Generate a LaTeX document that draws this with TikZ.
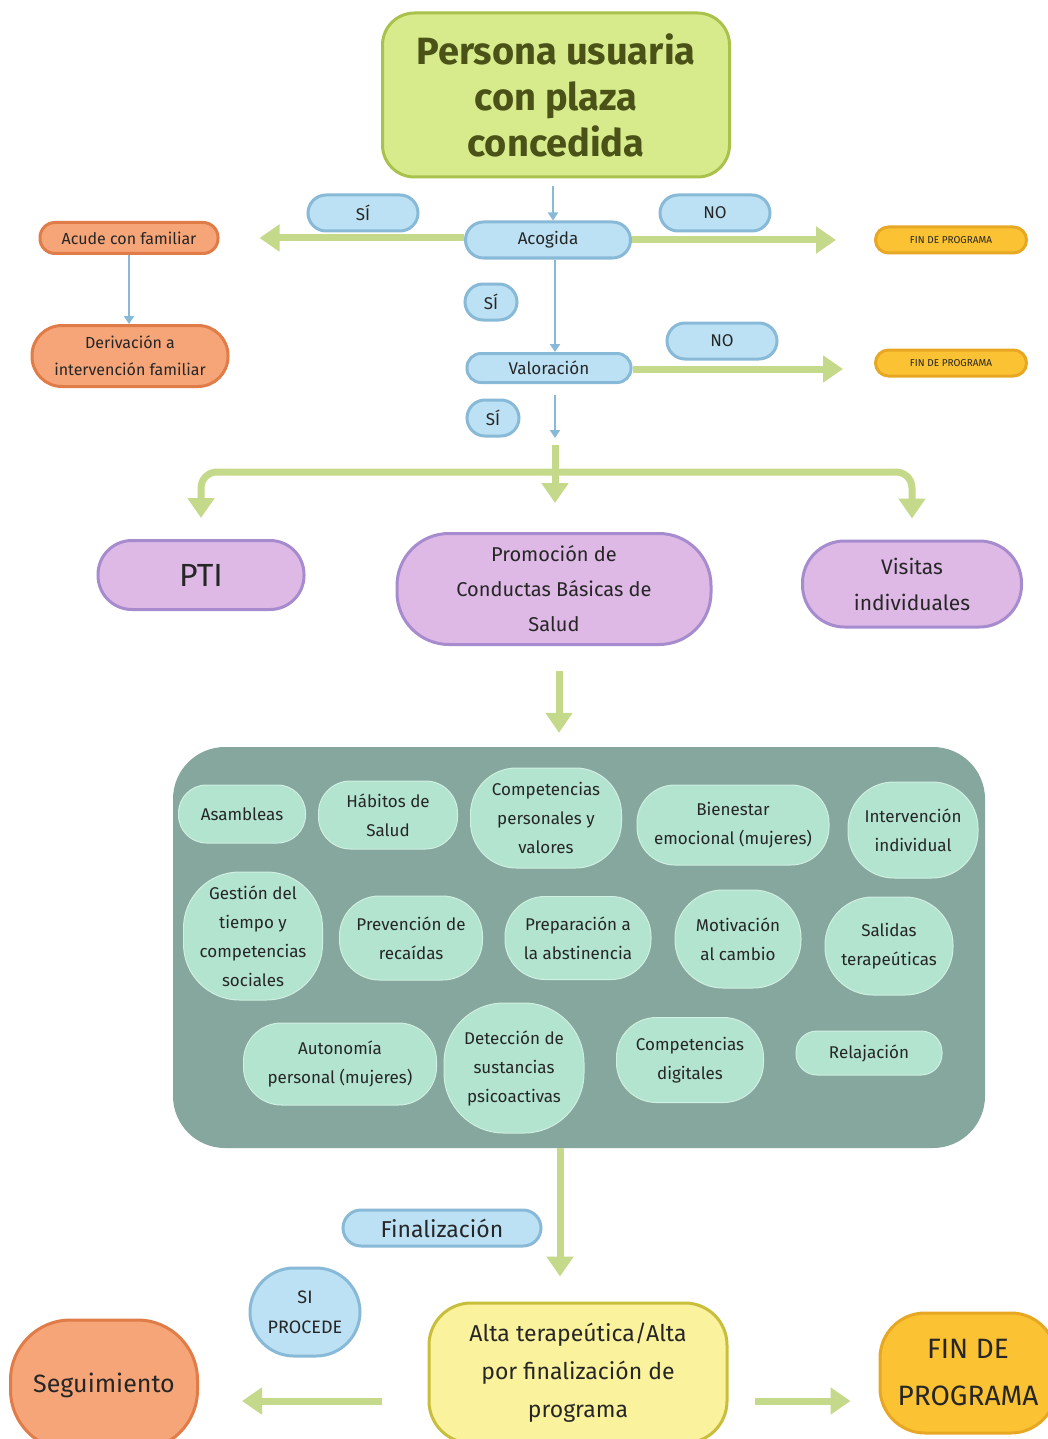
\documentclass[tikz,border=0pt]{standalone}
\usepackage{fontspec}
\setmainfont{Fira Sans}
\usetikzlibrary{arrows.meta}

\definecolor{ink}{HTML}{262626}
\definecolor{olive}{HTML}{4A5218}
\definecolor{limefill}{HTML}{D8EB8C}
\definecolor{limeline}{HTML}{A9C24C}
\definecolor{bluefill}{HTML}{BDE1F4}
\definecolor{blueline}{HTML}{88BAD7}
\definecolor{orangefill}{HTML}{F6A578}
\definecolor{orangeline}{HTML}{E07C47}
\definecolor{finfill}{HTML}{FBC333}
\definecolor{finline}{HTML}{E8A723}
\definecolor{lilacfill}{HTML}{DEB9E6}
\definecolor{lilacline}{HTML}{A68BCE}
\definecolor{tealbox}{HTML}{85A79D}
\definecolor{mint}{HTML}{B2E4CF}
\definecolor{greenarrow}{HTML}{C5D98A}
\definecolor{altafill}{HTML}{FAF29C}
\definecolor{altaline}{HTML}{C8BE3C}

\begin{document}
\begin{tikzpicture}[x=1pt,y=-1pt,
    box/.style={draw, line width=3pt, align=center, inner sep=0pt, text=ink},
    bluebox/.style={box, draw=blueline, fill=bluefill, font=\fontsize{17}{20}\selectfont},
    orangebox/.style={box, draw=orangeline, fill=orangefill},
    finbox/.style={box, draw=finline, fill=finfill},
    lilacbox/.style={box, draw=lilacline, fill=lilacfill},
    taller/.style={fill=mint, draw=mint!60!white, line width=1pt, align=center, inner sep=0pt,
      text=ink, font=\fontsize{17}{29}\selectfont},
    garrow/.style={draw=greenarrow, line width=7pt, -{Triangle[width=26pt,length=20pt]}},
    barrow/.style={draw=blueline, line width=2.5pt, -{Triangle[width=10pt,length=8pt]}}]
  \clip (0,0) rectangle (1048,1439);
  \fill[white] (0,0) rectangle (1048,1439);

  \node[box, draw=limeline, fill=limefill, text=olive, minimum width=347pt, minimum height=164pt,
    rounded corners=32pt, font=\fontsize{38}{46}\selectfont\bfseries] (persona) at (556,95)
    {Persona usuaria\\con plaza\\concedida};

  \node[bluebox, minimum width=165pt, minimum height=36pt, rounded corners=18pt] (acogida) at (548,240) {Acogida};
  \node[bluebox, minimum width=164pt, minimum height=29pt, rounded corners=14pt] (valoracion) at (549,368) {Valoración};
  \node[bluebox, minimum width=110pt, minimum height=36pt, rounded corners=18pt] (si1) at (363,213) {SÍ};
  \node[bluebox, minimum width=110pt, minimum height=36pt, rounded corners=18pt] (no1) at (715,213) {NO};
  \node[bluebox, minimum width=52pt, minimum height=36pt, rounded corners=18pt] (si2) at (491,302) {SÍ};
  \node[bluebox, minimum width=110pt, minimum height=36pt, rounded corners=18pt] (no2) at (722,341) {NO};
  \node[bluebox, minimum width=52pt, minimum height=36pt, rounded corners=18pt] (si3) at (493,418) {SÍ};

  \node[orangebox, minimum width=178pt, minimum height=31pt, rounded corners=15pt,
    font=\fontsize{16}{20}\selectfont] (acude) at (129,238) {Acude con familiar};
  \node[orangebox, minimum width=196pt, minimum height=61pt, rounded corners=30pt,
    font=\fontsize{16}{27}\selectfont] (derivacion) at (130,356) {Derivación a\\intervención familiar};

  \node[finbox, minimum width=151pt, minimum height=26pt, rounded corners=13pt,
    font=\fontsize{10}{12}\selectfont] (fin1) at (951,240) {FIN DE PROGRAMA};
  \node[finbox, minimum width=151pt, minimum height=26pt, rounded corners=13pt,
    font=\fontsize{10}{12}\selectfont] (fin2) at (951,363) {FIN DE PROGRAMA};

  \coordinate (fork) at (555,472);
  \draw[barrow, shorten <=8pt] (persona.south -| 553,0) -- (acogida.north -| 553,0);
  \draw[barrow] (acogida.south -| fork) -- (valoracion.north -| fork);
  \draw[barrow] (acude.south) -- (derivacion.north -| acude.south);
  \draw[garrow, shorten >=40pt] (acogida.west |- 0,238) -- (acude.east);
  \draw[garrow, shorten >=38pt] (acogida) -- (fin1);
  \draw[garrow, shorten >=31pt] (valoracion.east |- 0,369) -- (fin2.west |- 0,369);
  \draw[barrow, shorten <=11pt] (valoracion.south -| fork) -- (555,438);

  \node[lilacbox, minimum width=206pt, minimum height=69pt, rounded corners=34pt,
    font=\fontsize{32}{36}\selectfont] (pti) at (201,575) {PTI};
  \node[lilacbox, minimum width=314pt, minimum height=111pt, rounded corners=52pt,
    font=\fontsize{20}{35}\selectfont] (promocion) at (554,589) {Promoción de\\Conductas Básicas de\\Salud};
  \node[lilacbox, minimum width=219pt, minimum height=86pt, rounded corners=42pt,
    font=\fontsize{21}{36}\selectfont] (visitas) at (912,584) {Visitas\\individuales};

  \draw[garrow] (555,445) -- ([yshift=29pt]promocion.north -| fork);
  \draw[garrow, rounded corners=16pt] (fork) -| ([yshift=21pt]pti.north);
  \draw[garrow, rounded corners=16pt] (fork) -| ([yshift=21pt]visitas.north);

  \node[fill=tealbox, rounded corners=52pt, minimum width=812pt, minimum height=401pt,
    inner sep=0pt] (talleres) at (579,947.5) {};
  \foreach \n/\x/\y/\w/\h/\r/\t in {
      asam/242/814/127/58/28/Asambleas,
      habi/388/815/139/68/32/{Hábitos de\\Salud},
      comp/546/818/151/100/46/{Competencias\\personales y\\valores},
      bien/733/825/192/80/38/{Bienestar\\emocional (mujeres)},
      inte/913/830/130/96/46/{Intervención\\individual},
      gest/253/936/139/128/56/{Gestión del\\tiempo y\\competencias\\sociales},
      prev/411/938/143/84/40/{Prevención de\\recaídas},
      prep/578/938/146/83/40/{Preparación a\\la abstinencia},
      moti/738/939/126/98/48/{Motivación\\al cambio},
      sali/889/946/128/98/48/{Salidas\\terapeúticas},
      auto/340/1064/193/82/38/{Autonomía\\personal (mujeres)},
      dete/514/1068/140/130/60/{Detección de\\sustancias\\psicoactivas},
      digi/690/1060/147/85/40/{Competencias\\digitales},
      rela/869/1053/146/44/21/Relajación}{
    \node[taller, minimum width=\w pt, minimum height=\h pt, rounded corners=\r pt] (\n) at (\x,\y) {\t};
  }

  \draw[garrow, shorten <=25pt, shorten >=14pt] ([xshift=5pt]promocion.south) -- ([xshift=-20pt]talleres.north);

  \node[bluebox, minimum width=198pt, minimum height=36pt, rounded corners=18pt,
    font=\fontsize{23}{26}\selectfont] (finalizacion) at (442,1228) {Finalización};
  \node[bluebox, minimum width=110pt, minimum height=88pt, rounded corners=44pt,
    font=\fontsize{18}{30}\selectfont] (procede) at (305,1312) {SI\\PROCEDE};
  \node[box, draw=altaline, fill=altafill, minimum width=298pt, minimum height=140pt, rounded corners=42pt,
    font=\fontsize{23}{38}\selectfont] (alta) at (578,1373) {Alta terapeútica/Alta\\por finalización de\\programa};
  \node[orangebox, minimum width=187pt, minimum height=130pt, rounded corners=60pt,
    font=\fontsize{25}{30}\selectfont] (seguimiento) at (104,1385) {Seguimiento};
  \node[finbox, minimum width=176pt, minimum height=120pt, rounded corners=45pt,
    font=\fontsize{28}{47}\selectfont] (fin3) at (968,1373) {FIN DE\\PROGRAMA};

  \draw[garrow, shorten >=25pt] ([xshift=-19pt]talleres.south) -- ([xshift=-19pt]talleres.south |- alta.north);
  \draw[garrow, shorten <=46pt, shorten >=43pt] (alta.west |- 0,1401) -- (seguimiento.east |- 0,1401);
  \draw[garrow, shorten <=26pt, shorten >=28pt] (alta.east |- 0,1401) -- (fin3.west |- 0,1401);
\end{tikzpicture}
\end{document}
